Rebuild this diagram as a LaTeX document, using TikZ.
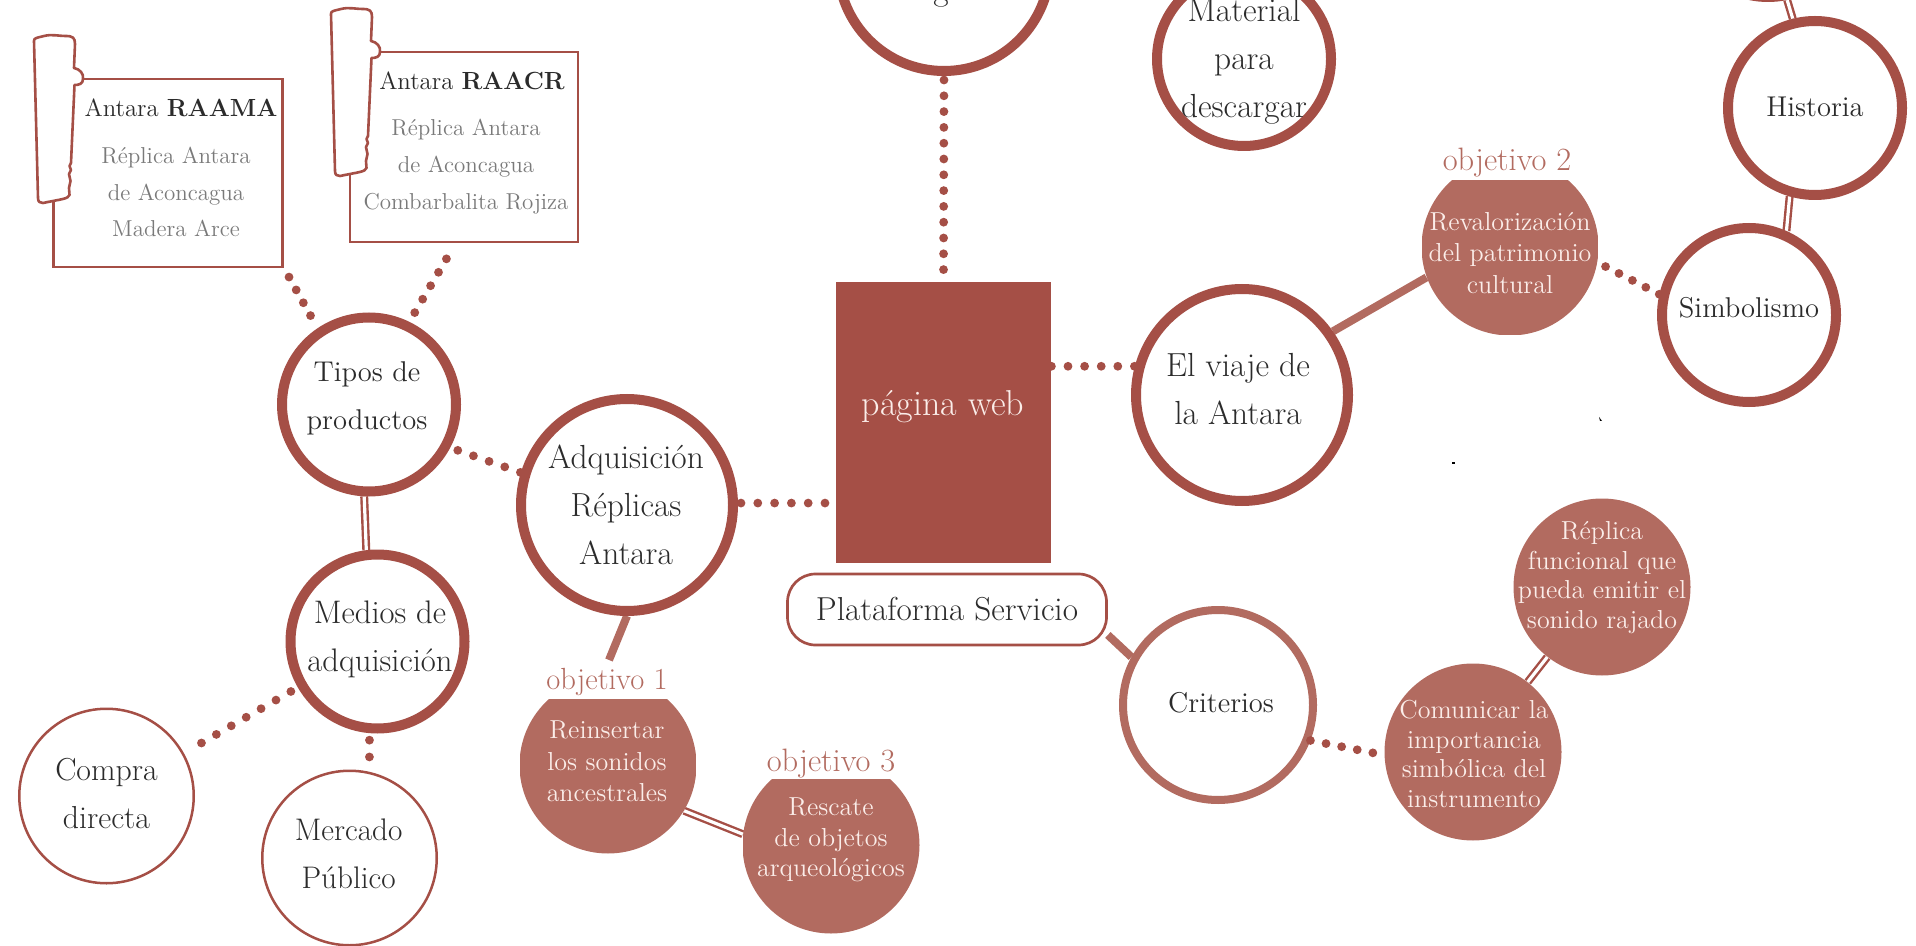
\documentclass[tikz,border=0pt]{standalone}
\usetikzlibrary{backgrounds}
\definecolor{brick}{HTML}{A54F46}
\definecolor{clay}{HTML}{B26B60}
\definecolor{ink}{HTML}{2B2B2B}
\definecolor{soft}{HTML}{7A7A7A}
\definecolor{pale}{HTML}{FBEDE9}
\tikzset{
  ring/.style={circle,inner sep=0pt,draw=brick,line width=5pt,fill=white,minimum size=#1 pt},
  thinring/.style={circle,inner sep=0pt,draw=brick,line width=1.25pt,fill=white,minimum size=87.25pt},
  clayring/.style={circle,inner sep=0pt,draw=clay,line width=4pt,fill=white,minimum size=95pt},
  disc/.style={circle,inner sep=0pt,fill=clay,minimum size=88.5pt},
  cutdisc/.style={circle,inner sep=0pt,minimum size=88.5pt,
    path picture={\fill[clay] (path picture bounding box.south west) rectangle ([yshift=-11pt]path picture bounding box.north east);}},
  card/.style={rectangle,inner sep=0pt,draw=brick,line width=1.35pt,fill=white},
  txtbig/.style={inner sep=0pt,text=ink,align=center,font=\fontsize{16.7}{24}\selectfont},
  txtmid/.style={inner sep=0pt,text=ink,align=center,font=\fontsize{14.3}{24}\selectfont},
  txtlow/.style={inner sep=0pt,text=ink,align=center,font=\fontsize{#1}{24}\selectfont},
  txtwhite/.style={inner sep=0pt,text=pale,align=center,font=\fontsize{13}{#1}\selectfont},
  txtobj/.style={inner sep=0pt,text=clay,font=\fontsize{#1}{17}\selectfont},
  txttitle/.style={inner sep=0pt,text=ink,font=\fontsize{12.4}{15}\selectfont},
  txtsub/.style={inner sep=0pt,text=soft,align=center,font=\fontsize{11.5}{18.4}\selectfont},
  dots/.style={draw=brick,line width=4.4pt,line cap=round,dash pattern=on 0pt off #1pt},
  dots/.default=7.9,
  thick link/.style={draw=clay,line width=4pt},
  double link/.style={draw=brick,line width=1.2pt,double=white,double distance=1.6pt},
  antarashape/.pic={
    \draw[draw=brick,line width=1.3pt,fill=white,line join=round]
      (34,41) .. controls (34,38) and (36,38) .. (44,36)
      .. controls (52,34) and (58,36) .. (66,36)
      .. controls (73,36) and (75,38) .. (75,44)
      -- (74,68) .. controls (80,69) and (84,74) .. (83,79)
      .. controls (83,84) and (79,85) .. (74.5,85)
      -- (71,163) -- (69.5,166) -- (71,170) -- (69,174) -- (70.5,181) -- (69,188) -- (69.5,195)
      .. controls (68,199) and (62,199) .. (43,203)
      .. controls (40,203) and (38,202) .. (38,198) -- cycle;
  }
}
\begin{document}
\begin{tikzpicture}[x=0.5pt,y=-0.5pt]
\useasboundingbox (0,0) rectangle (1916,946);
% ---------- boxes
\node[rectangle,inner sep=0pt,fill=brick,minimum width=107.5pt,minimum height=140.5pt] (web) at (943.5,422.5) {};
\node[card,rounded corners=14pt,minimum width=159.5pt,minimum height=35.5pt,text=ink,font=\fontsize{16.6}{17}\selectfont] (plat) at (947,609.5) {Plataforma Servicio};
\node[card,minimum width=114.8pt,minimum height=94pt] (raama) at (168,173) {};
\node[card,minimum width=114pt,minimum height=95pt] (raacr) at (464,147) {};
\pic at (0,0) {antarashape};
\pic at (297,-27) {antarashape};
% ---------- rings
\node[ring=106] (top) at (944,-35) {};
\node[ring=87] (mat) at (1244,59) {};
\node[ring=87] (topr) at (1768,-90) {};
\node[ring=87] (hist) at (1815,108) {};
\node[ring=87] (simb) at (1749,315) {};
\node[ring=106] (viaje) at (1242,395) {};
\node[ring=106] (adq) at (627,505) {};
\node[ring=87] (tipos) at (369,404.5) {};
\node[ring=87] (medios) at (377.5,641.5) {};
\node[thinring] (compra) at (106.5,796) {};
\node[thinring] (mercado) at (349.5,858) {};
\node[clayring] (crit) at (1218,705) {};
% ---------- discs
\node[cutdisc] (obj1) at (608,765) {};
\node[cutdisc] (obj3) at (831,845) {};
\node[cutdisc] (obj2) at (1510,247) {};
\node[disc] (com) at (1473,752) {};
\node[disc] (rep) at (1602,587) {};
% ---------- texts
\node[txtbig,anchor=base] (ttop) at (941,1) {g};
\node[txtbig] (tmat) at (1244,61) {Material\\para\\descargar};
\node[txtmid] (thist) at (1815,107) {Historia};
\node[txtmid] (tsimb) at (1749,308) {Simbolismo};
\node[txtbig] (tviaje) at (1238,389.5) {El viaje de\\la Antara};
\node[txtbig] (tadq) at (626,505) {Adquisición\\Réplicas\\Antara};
\node[txtmid] (ttipos) at (367,398.5) {Tipos de\\productos};
\node[txtlow=16.3] (tmedios) at (380,639) {Medios de\\adquisición};
\node[txtlow=15.9] (tcompra) at (106.5,794) {Compra\\directa};
\node[txtlow=15.6] (tmercado) at (348.6,854) {Mercado\\Público};
\node[txtmid] (tcrit) at (1221,703) {Criterios};
\node[inner sep=0pt,text=pale,font=\fontsize{18}{20}\selectfont] (tweb) at (943,407) {página web};
\node[txtobj=15.3] (lobj1) at (607,681.5) {objetivo 1};
\node[txtobj=16.2] (lobj2) at (1507,163) {objetivo 2};
\node[txtobj=16.2] (lobj3) at (831,764) {objetivo 3};
\node[txtwhite=15.8] (tobj1) at (607,761.5) {Reinsertar\\los sonidos\\ancestrales};
\node[txtwhite=15.3] (tobj3) at (831,840) {Rescate\\de objetos\\arqueológicos};
\node[txtwhite=15.6] (tobj2) at (1510,253) {Revalorización\\del patrimonio\\cultural};
\node[txtwhite=14.7] (tcom) at (1474,754) {Comunicar la\\importancia\\simbólica del\\instrumento};
\node[txtwhite=14.7] (trep) at (1602,577.5) {Réplica\\funcional que\\pueda emitir el\\sonido rajado};
\node[txttitle] (traama) at (181,107.5) {Antara \textbf{RAAMA}};
\node[txtsub] (sraama) at (176,192) {Réplica Antara\\de Aconcagua\\Madera Arce};
\node[txttitle] (traacr) at (472,81) {Antara \textbf{RAACR}};
\node[txtsub] (sraacr) at (466,166.5) {Réplica Antara\\de Aconcagua\\Combarbalita Rojiza};
% ---------- specks
\fill[black] (1599,417) -- (1602,421) -- (1600,421) -- cycle;
\fill[black] (1452,462) rectangle (1455,464);
% ---------- connectors
\coordinate (c1) at (609,660);
\begin{scope}[on background layer]
\draw[thick link] (viaje.35) -- (obj2.200);
\draw[thick link] (adq.south) -- (c1);
\draw[thick link] (plat.-9.5) -- (crit.151);
\draw[double link] (tipos.267) -- (medios.97);
\draw[double link] (simb.66) -- (hist.254);
\draw[double link] (topr.-78) -- (hist.104);
\draw[double link] (obj1.-31.5) -- (obj3.173);
\draw[double link] (com.52) -- (rep.232);
\end{scope}
\draw[dots,shorten <=2pt,shorten >=3pt] (top.south) -- (web.north);
\draw[dots=8.4,shorten <=1.5pt,shorten >=4pt] (adq.1) -- (adq.1 -| web.west);
\draw[dots=8.3] (viaje.165 -| web.east) -- (viaje.165);
\draw[dots=7.55,shorten <=4.5pt] (obj2.-10) -- (simb.167);
\draw[dots=8.3,shorten <=4pt] (tipos.-28) -- (adq.163);
\draw[dots=7.35,shorten <=5pt] (raama.south east) -- (tipos.124);
\draw[dots=7.8,shorten <=9pt] (raacr.265) -- (tipos.64);
\draw[dots=8.6,shorten <=4pt,shorten >=6pt] (medios.210) -- (compra.29);
\draw[dots=8.4,shorten <=3.5pt,shorten >=5pt] (medios.-95) -- (mercado.77);
\draw[dots=7.95,shorten >=3pt] (crit.-21) -- (com.182);
\end{tikzpicture}
\end{document}
